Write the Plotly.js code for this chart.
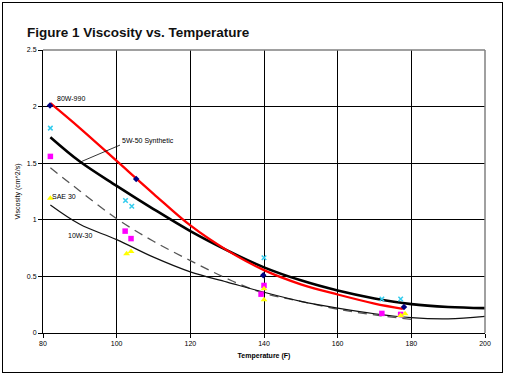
<!DOCTYPE html>
<html>
<head>
<meta charset="utf-8">
<script src="https://cdn.plot.ly/plotly-3.0.1.min.js"></script>
<style>
html,body{margin:0;padding:0;background:#fff;}
#wrap{position:relative;width:505px;height:377px;}
#chart{position:absolute;left:0;top:0;width:505px;height:377px;}
#frame{position:absolute;left:2px;top:2px;width:499px;height:369px;border:1px solid #000;pointer-events:none;}
</style>
</head>
<body>
<div id="wrap"><div id="chart"></div><div id="frame"></div></div>
<script>
// Measured points
const diamondX = [81.9, 105.3, 139.8, 178.0];
const diamondY = [2.01, 1.36, 0.51, 0.23];
const crossX = [82, 102.4, 104.1, 140, 172, 177.1];
const crossY = [1.81, 1.17, 1.12, 0.665, 0.30, 0.30];
const squareX = [82, 102.3, 103.9, 140, 139.2, 172, 177.1];
const squareY = [1.56, 0.90, 0.834, 0.42, 0.343, 0.173, 0.164];
const triX = [82, 102.7, 103.9, 140, 140, 177.1, 178.3];
const triY = [1.19, 0.70, 0.72, 0.39, 0.294, 0.155, 0.17];

// Trendlines
const redX = [82, 90, 100, 110, 120, 130, 140, 150, 160, 170, 177.7];
const redY = [2.03, 1.81, 1.52, 1.23, 0.95, 0.73, 0.555, 0.43, 0.34, 0.26, 0.214];
const thickX = [82, 90, 100, 110, 120, 130, 140, 150, 160, 170, 180, 190, 200];
const thickY = [1.73, 1.515, 1.30, 1.095, 0.90, 0.73, 0.58, 0.465, 0.375, 0.305, 0.255, 0.23, 0.22];
const dashX = [82, 90, 100, 110, 120, 130, 140, 150, 160, 170, 180];
const dashY = [1.46, 1.255, 1.01, 0.81, 0.64, 0.48, 0.35, 0.28, 0.21, 0.16, 0.12];
const thinX = [82, 90, 100, 110, 120, 130, 140, 150, 160, 170, 180, 190, 200];
const thinY = [1.13, 0.96, 0.825, 0.67, 0.54, 0.45, 0.36, 0.28, 0.22, 0.17, 0.135, 0.125, 0.147];

// Labels
const labelText = ["80W-990", "5W-50 Synthetic", "SAE 30", "10W-30"];
const labelX = [83.2, 100.9, 81.9, 86.2];
const labelY = [2.07, 1.70, 1.21, 0.865];

const font = "Arial, 'Liberation Sans', sans-serif";

const traces = [
  {x: dashX, y: dashY, mode: 'lines', line: {color: '#555', width: 1.3, dash: '9px,6px', shape: 'spline'}, hoverinfo: 'skip'},
  {x: thinX, y: thinY, mode: 'lines', line: {color: '#111', width: 1.2, shape: 'spline'}, hoverinfo: 'skip'},
  {x: thickX, y: thickY, mode: 'lines', line: {color: '#000', width: 2.6, shape: 'spline'}, hoverinfo: 'skip'},
  {x: redX, y: redY, mode: 'lines', line: {color: '#ff0000', width: 2.3, shape: 'spline'}, hoverinfo: 'skip'},
  {x: diamondX, y: diamondY, mode: 'markers', marker: {symbol: 'diamond', size: 5, color: '#000080'}},
  {x: crossX, y: crossY, mode: 'markers', marker: {symbol: 'x-thin', size: 4.5, line: {color: '#33ccee', width: 1.5}}},
  {x: squareX, y: squareY, mode: 'markers', marker: {symbol: 'square', size: 5.5, color: '#ff00ff'}},
  {x: triX, y: triY, mode: 'markers', marker: {symbol: 'triangle-up', size: 6, color: '#ffff00'}}
];

const annotations = labelText.map((t, i) => ({
  x: labelX[i], y: labelY[i], xref: 'x', yref: 'y', text: t, showarrow: false,
  xanchor: 'left', yanchor: 'middle', font: {family: font, size: 7, color: '#000'}
}));

const layout = {
  width: 505, height: 377, autosize: false,
  showlegend: false,
  paper_bgcolor: '#fff', plot_bgcolor: '#fff',
  margin: {l: 43, r: 20, t: 50, b: 44, pad: 0},
  title: {text: 'Figure 1 Viscosity vs. Temperature', x: 27/505, xref: 'container', xanchor: 'left',
          y: 1 - 32/377, yref: 'container', yanchor: 'middle',
          font: {family: font, size: 13.5, color: '#111', weight: 'bold'}},
  xaxis: {range: [80, 200], dtick: 20, tick0: 80, showgrid: true, gridcolor: '#000', gridwidth: 1,
          showline: true, linecolor: '#000', linewidth: 1, ticks: 'outside', ticklen: 4, tickcolor: '#000',
          zeroline: false, tickfont: {family: font, size: 7, color: '#000'},
          title: {text: 'Temperature (F)', standoff: 6, font: {family: font, size: 7, color: '#000', weight: 'bold'}}},
  yaxis: {range: [0, 2.5], dtick: 0.5, showgrid: true, gridcolor: '#000', gridwidth: 1,
          showline: true, linecolor: '#000', linewidth: 1, ticks: 'outside', ticklen: 4, tickcolor: '#000',
          zeroline: false, tickfont: {family: font, size: 7, color: '#000'},
          title: {text: 'Viscosity (cm^2/s)', standoff: 5, font: {family: font, size: 7, color: '#000'}}},
  annotations: annotations,
  shapes: [
    {type: 'line', xref: 'paper', yref: 'paper', x0: 0, x1: 1, y0: 1, y1: 1, line: {color: '#808080', width: 1.5}},
    {type: 'line', xref: 'paper', yref: 'paper', x0: 1, x1: 1, y0: 0, y1: 1, line: {color: '#808080', width: 1.5}},
    {type: 'line', xref: 'x', yref: 'y', x0: 100.9, y0: 1.66, x1: 90.1, y1: 1.51, line: {color: '#000', width: 0.8}}
  ]
};

Plotly.newPlot('chart', traces, layout, {displayModeBar: false, staticPlot: true});
</script>
</body>
</html>
